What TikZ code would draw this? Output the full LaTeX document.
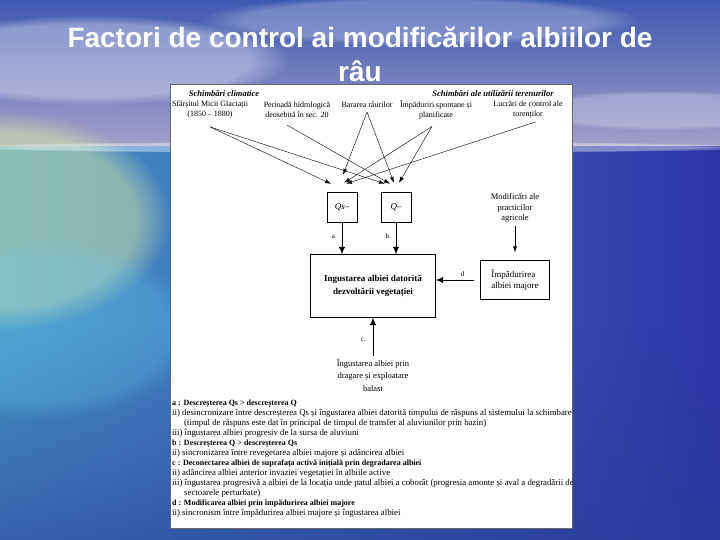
\documentclass[tikz,border=0pt]{standalone}
\usepackage{fontspec}
\setmainfont{Liberation Serif}
\newfontfamily\slidefont{Liberation Sans}
\usetikzlibrary{arrows.meta,positioning,fadings}
\definecolor{skytop}{RGB}{62,88,178}
\definecolor{skylow}{RGB}{165,160,200}
\definecolor{sealeft}{RGB}{70,150,200}
\definecolor{searight}{RGB}{48,52,168}
\definecolor{seadeep}{RGB}{40,60,150}
\definecolor{sunglow}{RGB}{225,240,160}

\begin{document}
\begin{tikzpicture}[x=1pt,y=-1pt,
grouptitle/.style={inner sep=0pt,font=\fontsize{8.5}{10}\selectfont\bfseries\itshape},
causetext/.style={align=center,inner sep=0pt,font=\fontsize{8}{10}\selectfont},
qbox/.style={draw,thin,minimum width=30pt,minimum height=30pt,inner sep=0pt,font=\fontsize{9}{10}\selectfont\itshape},
mainbox/.style={draw,line width=1.1pt,minimum width=125pt,minimum height=63pt,align=center,font=\fontsize{9}{13}\selectfont\bfseries},
sidebox/.style={draw,thin,minimum width=69pt,minimum height=39pt,align=left,font=\fontsize{9}{11}\selectfont},
lbl/.style={inner sep=1pt,font=\fontsize{7}{8}\selectfont},
arr/.style={-{Latex[length=6pt,width=4pt]},thin},
bigarr/.style={-{Latex[length=7pt,width=6pt]},thin},
titletext/.style={anchor=base,inner sep=0pt,text=white,font=\slidefont\bfseries\fontsize{28}{34}\selectfont}]
\useasboundingbox (0,0) rectangle (720,540);
% sky and sea
\fill[top color=skytop,bottom color=skylow] (0,0) rectangle (720,147);
\fill[white,opacity=.35,path fading=circle with fuzzy edge 20 percent] (90,60) ellipse [x radius=200pt,y radius=45pt];
\fill[white,opacity=.25,path fading=circle with fuzzy edge 20 percent] (420,20) ellipse [x radius=220pt,y radius=25pt];
\fill[white,opacity=.25,path fading=circle with fuzzy edge 20 percent] (660,110) ellipse [x radius=140pt,y radius=20pt];
\fill[left color=sealeft,right color=searight] (0,147) rectangle (720,540);
\fill[seadeep,opacity=.6,path fading=north] (0,330) rectangle (720,540);
\fill[sunglow,opacity=.45,path fading=circle with fuzzy edge 20 percent] (0,220) ellipse [x radius=170pt,y radius=110pt];
\fill[cyan!60!white,opacity=.25,path fading=circle with fuzzy edge 20 percent] (40,330) ellipse [x radius=160pt,y radius=90pt];
\fill[white,opacity=.4,path fading=circle with fuzzy edge 20 percent] (360,147) ellipse [x radius=420pt,y radius=6pt];
% title
\node[titletext] (title) at (360,48) {Factori de control ai modificărilor albiilor de};
\node[titletext] (title2) at (360,82) {râu};
% scanned sheet
\fill[white] (170,84) rectangle (572,528);
\draw[black!60,thin] (170,84) rectangle (572,528);
\begin{scope}
\clip (170,84) rectangle (572,528);
\node[grouptitle] (clim) at (224,94) {Schimbări climatice};
\node[grouptitle] (land) at (493,94) {Schimbări ale utilizării terenurilor};
\node[causetext] (glac) at (210,110) {Sfârșitul Micii Glaciații\\(1850 – 1880)};
\node[causetext] (hydro) at (297,110) {Perioadă hidrologică\\deosebită în sec. 20};
\node[causetext] (dam) at (367,105) {Bararea râurilor};
\node[causetext] (forest) at (436,110) {Împăduriri spontane și\\planificate};
\node[causetext] (torrent) at (528,110) {Lucrări de control ale\\torenților};
\node[qbox] (qs) at (342,207) {Qs--};
\node[qbox] (q) at (396,207) {Q--};
\node[causetext,font=\fontsize{8.5}{10.5}\selectfont] (agri) at (515,208) {Modificări ale\\practicilor\\agricole};
\node[mainbox] (main) at (373,286) {Ingustarea albiei datorită\\dezvoltării vegetației};
\node[sidebox] (afor) at (515,280) {Împădurirea\\albiei majore};
\node[causetext,font=\fontsize{8.5}{12.5}\selectfont] (dredge) at (373,375) {Îngustarea albiei prin\\dragare și exploatare\\balast};
% causes
\draw[arr] ([yshift=-8pt]glac.south) -- ([shift={(-11pt,8pt)}]qs.north);
\draw[arr] ([yshift=-8pt]glac.south) -- ([shift={(-11pt,8pt)}]q.north);
\draw[arr] ([shift={(-10pt,-7pt)}]hydro.south) -- ([shift={(-6pt,8pt)}]q.north);
\draw[arr] ([yshift=-4pt]dam.south) -- ([shift={(1pt,17pt)}]qs.north);
\draw[arr] ([yshift=-4pt]dam.south) -- ([shift={(-2pt,9pt)}]q.north);
\draw[arr] ([shift={(-4pt,-7pt)}]forest.south) -- ([shift={(2pt,9pt)}]qs.north);
\draw[arr] ([shift={(-4pt,-7pt)}]forest.south) -- ([shift={(3pt,9pt)}]q.north);
\draw[arr] ([shift={(8pt,-3pt)}]torrent.south) -- ([shift={(4pt,8pt)}]qs.north);
% effects
\draw[bigarr] (qs.south) -- node[lbl,left=4pt,pos=.45] {a.} (qs.south |- main.north);
\draw[bigarr] (q.south) -- node[lbl,left=4pt,pos=.45] {b.} (q.south |- main.north);
\draw[arr,shorten <=3pt,shorten >=8pt] (agri.south) -- (afor.north);
\draw[bigarr,shorten <=6pt] (afor.west) -- node[lbl,above=2pt,pos=.4] {d} (afor.west -| main.east);
\draw[bigarr,shorten <=3pt] (dredge.north) -- node[lbl,left=6pt,pos=.45] {c.} (dredge.north |- main.south);
% notes
\node[anchor=north west,inner sep=0pt,align=left,font=\fontsize{8.8}{10}\selectfont] (notes) at (172,400) {%
{\fontsize{8}{10}\selectfont\bfseries a : Descreșterea Qs > descreșterea Q}\\
ii) desincronizare între  descreșterea Qs  și îngustarea albiei datorită timpului de răspuns al sistemului la schimbare\\
\hspace*{12pt}(timpul de răspuns este dat în principal de timpul de transfer al aluviunilor prin bazin)\\
iii) îngustarea albiei progresiv de la sursa de aluviuni\\
{\fontsize{8}{10}\selectfont\bfseries b : Descreșterea Q > descreșterea Qs}\\
ii) sincronizarea între revegetarea albiei majore și adâncirea albiei\\
{\fontsize{8}{10}\selectfont\bfseries c : Deconectarea albiei de suprafața activă inițială prin degradarea albiei}\\
ii) adâncirea albiei anterior invaziei vegetației în albiile active\\
iii) îngustarea progresivă a albiei de la locația unde patul albiei a coborât (progresia amonte și aval a degradării de\\
\hspace*{12pt}sectoarele perturbate)\\
{\fontsize{8}{10}\selectfont\bfseries d : Modificarea albiei prin împădurirea albiei majore}\\
ii) sincronism între împădurirea albiei majore și îngustarea albiei};
\end{scope}
\end{tikzpicture}
\end{document}
